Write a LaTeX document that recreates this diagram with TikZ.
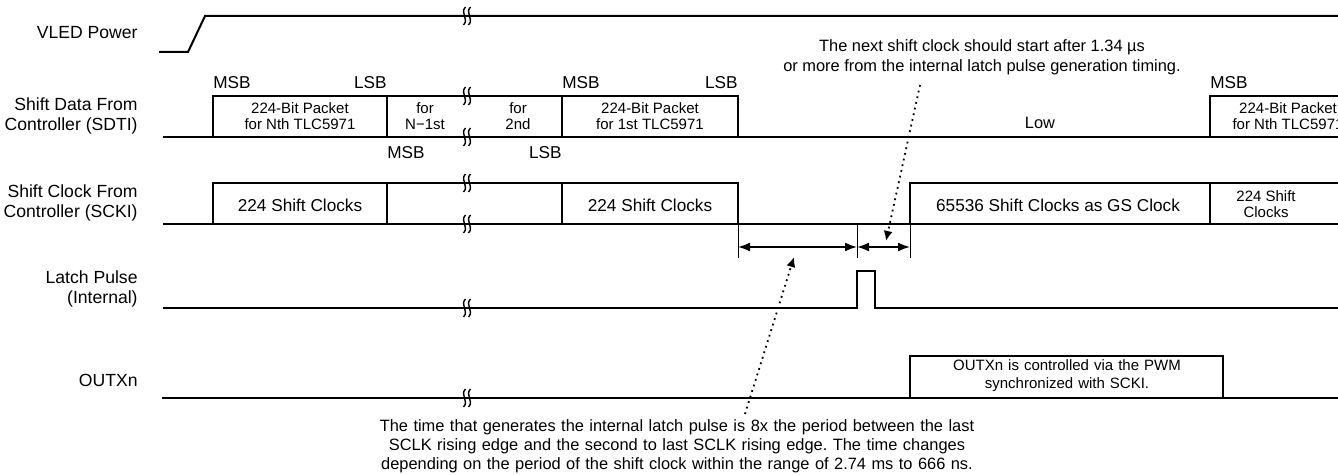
\documentclass[tikz,border=0pt]{standalone}
\usepackage{fontspec}
\setmainfont{Liberation Sans}
\usetikzlibrary{positioning, arrows.meta, calc}
\frenchspacing

\tikzset{
  sig/.style={line width=1pt, line join=miter},
  tick/.style={line width=0.5pt},
  lbl/.style={font=\fontsize{8.8}{10}\selectfont, align=right, anchor=east, inner sep=0pt},
  bittxt/.style={font=\fontsize{8.6}{10}\selectfont, inner sep=0pt},
  smalltxt/.style={font=\fontsize{7.5}{8}\selectfont, align=center, inner sep=0pt},
  note/.style={font=\fontsize{8.2}{10}\selectfont, align=center, inner sep=0pt},
  dimarr/.style={line width=0.9pt, {Latex[length=6pt,width=4.5pt]}-{Latex[length=6pt,width=4.5pt]}},
  dotarr/.style={line width=0.9pt, dotted, -{Latex[length=5pt,width=4.5pt]}},
  brk/.pic={
    \foreach \dx in {-2.5,2.5}
      \draw[line width=0.7pt] (\dx+1,-9) .. controls (\dx-5,-3) and (\dx+5,3) .. (\dx-1,9);
  }
}

\begin{document}
\begin{tikzpicture}[x=0.5pt, y=-0.5pt]
  \useasboundingbox (0,0) rectangle (1338,475);
  \clip (0,0) rectangle (1338,475);

  % signal names
  \node[lbl] (vled) at (138,33) {VLED Power};
  \node[lbl] (sdti) at (138,116) {Shift Data From\\Controller (SDTI)};
  \node[lbl] (scki) at (138,203) {Shift Clock From\\Controller (SCKI)};
  \node[lbl] (latch) at (138,289) {Latch Pulse\\(Internal)};
  \node[lbl] (outx) at (138,380) {OUTXn};

  % VLED power ramp
  \draw[sig] (159,52) -- (188,52) -- (205,16) -- (1338,16);
  \pic at (467,16) {brk};

  % SDTI packets
  \draw[sig] (163,137) -- (1338,137);
  \draw[sig] (213,137) -- (213,96) -- (738,96) -- (738,137);
  \draw[sig] (387,96) -- (387,137);
  \draw[sig] (562,96) -- (562,137);
  \draw[sig] (1210,137) -- (1210,96) -- (1338,96);
  \pic at (467,96) {brk};
  \pic at (467,137) {brk};
  \node[smalltxt] (pkN) at (300,116) {224-Bit Packet\\for Nth TLC5971};
  \node[smalltxt] (pkN1) at (425,116) {for\\N\textminus1st};
  \node[smalltxt] (pk2) at (518,116) {for\\2nd};
  \node[smalltxt] (pk1) at (650,116) {224-Bit Packet\\for 1st TLC5971};
  \node[note] (low) at (1040,123) {Low};
  \node[smalltxt] (pkNb) at (1288,116) {224-Bit Packet\\for Nth TLC5971};
  % bit order marks
  \node[bittxt, anchor=base west] (msbN) at (213,89) {MSB};
  \node[bittxt, anchor=base east] (lsbN) at (387,89) {LSB};
  \node[bittxt, anchor=base west] (msb1) at (562,89) {MSB};
  \node[bittxt, anchor=base east] (lsb1) at (738,89) {LSB};
  \node[bittxt, anchor=base west] (msbNb) at (1210,89) {MSB};
  \node[bittxt, anchor=base west] (msbN1) at (387,159) {MSB};
  \node[bittxt, anchor=base east] (lsb2) at (562,159) {LSB};

  % SCKI clocks
  \draw[sig] (163,224) -- (1338,224);
  \draw[sig] (213,224) -- (213,183) -- (738,183) -- (738,224);
  \draw[sig] (387,183) -- (387,224);
  \draw[sig] (562,183) -- (562,224);
  \draw[sig] (910,224) -- (910,183) -- (1338,183);
  \draw[sig] (1210,183) -- (1210,224);
  \pic at (467,183) {brk};
  \pic at (467,224) {brk};
  \node[bittxt] (clkN) at (300,205) {224 Shift Clocks};
  \node[bittxt] (clk1) at (650,205) {224 Shift Clocks};
  \node[bittxt] (gsclk) at (1058,205) {65536 Shift Clocks as GS Clock};
  \node[smalltxt] (clkNb) at (1266,204) {224 Shift\\Clocks};

  % latch pulse
  \draw[sig] (163,308) -- (857,308) -- (857,271) -- (875,271) -- (875,308) -- (1338,308);
  \pic at (467,308) {brk};

  % OUTXn
  \draw[sig] (162,398) -- (1338,398);
  \draw[sig] (910,398) -- (910,356) -- (1223,356) -- (1223,398);
  \pic at (467,398) {brk};
  \node[smalltxt, text width=180pt] (pwm) at (1067,376) {OUTXn is controlled via the PWM\\[1pt]synchronized with SCKI.};

  % timing marks
  \coordinate (m1) at (738,247);
  \coordinate (m2) at (857,247);
  \coordinate (m3) at (910,247);
  \draw[tick] (738,224) -- (738,258);
  \draw[tick] (857,224) -- (857,258);
  \draw[tick] (910,224) -- (910,258);
  \draw[dimarr] (m1) -- (m2);
  \draw[dimarr] (m2) -- (m3);

  % notes
  \node[note] (tnote) at (982,57) {The next shift clock should start after 1.34 µs\\or more from the internal latch pulse generation timing.};
  \node[note, text width=330pt] (bnote) at (677,446) {The time that generates the internal latch pulse is 8x the period between the last\\[-0.6pt]SCLK rising edge and the second to last SCLK rising edge. The time changes\\[-0.6pt]depending on the period of the shift clock within the range of 2.74 ms to 666 ns.};
  \coordinate (tp) at (920,85);
  \coordinate (tq) at (886,241);
  \coordinate (bp) at (745,414);
  \coordinate (bq) at (794,257);
  \draw[dotarr] (tp) -- (tq);
  \draw[dotarr] (bp) -- (bq);
\end{tikzpicture}
\end{document}
